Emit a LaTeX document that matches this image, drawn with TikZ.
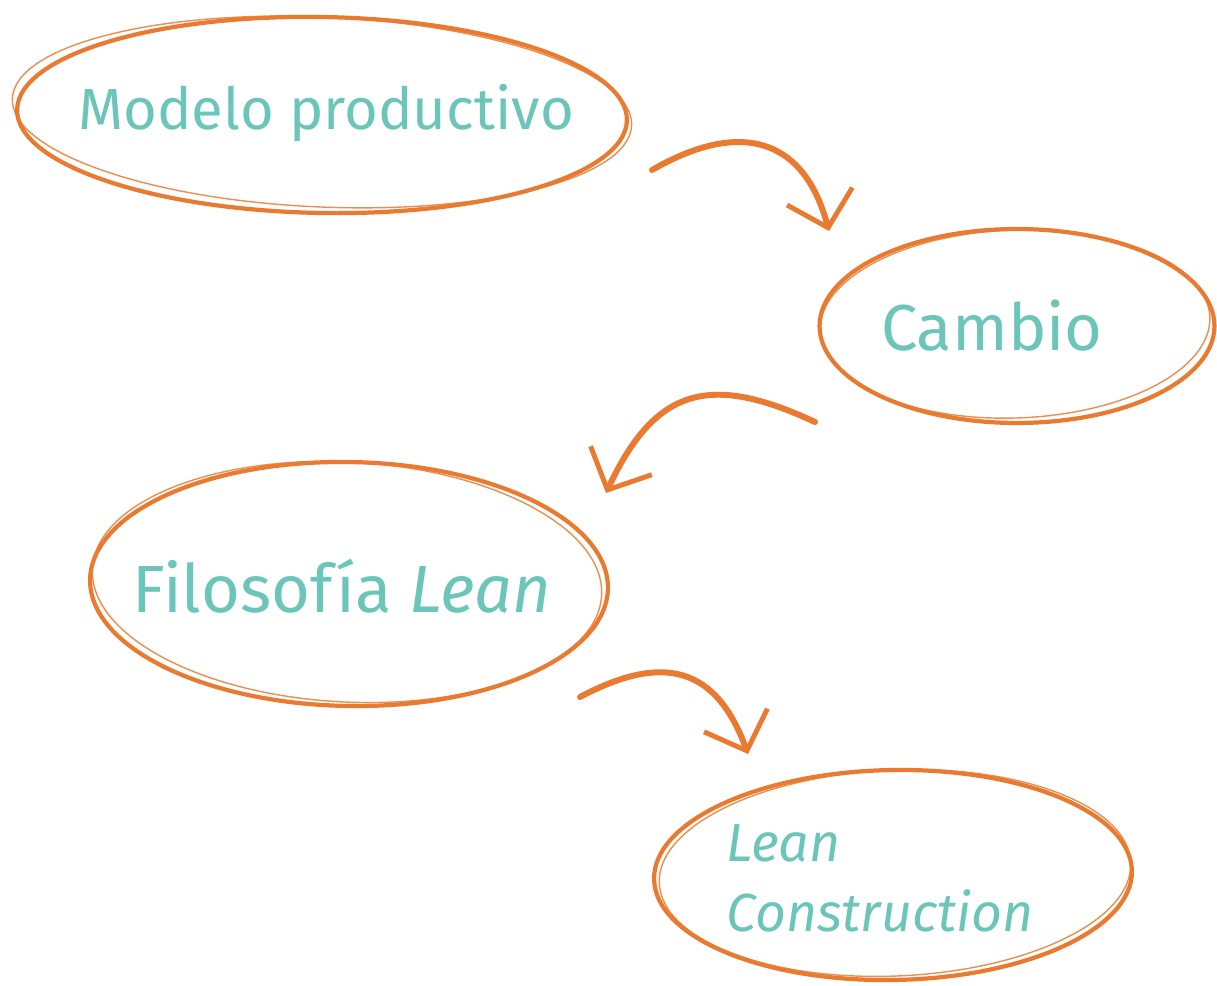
\documentclass[tikz,border=0pt]{standalone}
\usepackage{fontspec}
\setmainfont{Fira Sans}
\usepackage{xcolor}
\usepackage{tikz}
\usetikzlibrary{shapes.geometric, arrows.meta, positioning}
\definecolor{sketchorange}{HTML}{E97A30}
\definecolor{chalkteal}{HTML}{6BC6B9}
\tikzstyle{word} = [text=chalkteal, inner sep=2pt]
\tikzstyle{bubble} = [draw=sketchorange, line width=2.4pt]
\tikzstyle{sketch} = [draw=sketchorange, line width=0.8pt, opacity=0.85]
\tikzstyle{curvy} = [draw=sketchorange, line width=3.4pt, line cap=round, looseness=1.35, -{Straight Barb[length=0.65cm, width=1.35cm, line width=2.8pt]}]

\begin{document}
\begin{tikzpicture}[x=0.02cm, y=-0.02cm]
  \useasboundingbox (0,0) rectangle (1217,986);

  % Nodes
  \node (modelo) [word, font=\fontsize{33}{38}\selectfont] at (326,113) {Modelo productivo};
  \node (cambio) [word, font=\fontsize{37}{44}\selectfont] at (992,326) {Cambio};
  \node (filosofia) [word, font=\fontsize{38}{44}\selectfont] at (342,586) {Filosofía \textit{Lean}};
  \node (leanc) [word, font=\fontsize{30.5}{40}\selectfont\itshape, align=left] at (880,878) {Lean\\ Construction};

  % Outlines
  \draw[bubble] (322,115) ellipse [x radius=6.1cm, y radius=1.96cm, rotate=-1];
  \draw[sketch] (322,112) ellipse [x radius=6.2cm, y radius=1.9cm, rotate=-2.5];
  \draw[bubble] (1017,326) ellipse [x radius=3.95cm, y radius=1.94cm];
  \draw[sketch] (1015,324) ellipse [x radius=3.9cm, y radius=1.88cm, rotate=2];
  \draw[bubble] (349,584) ellipse [x radius=5.18cm, y radius=2.44cm, rotate=-1];
  \draw[sketch] (347,582) ellipse [x radius=5.1cm, y radius=2.4cm, rotate=-3];
  \draw[bubble] (893,875) ellipse [x radius=4.78cm, y radius=2.1cm, rotate=1];
  \draw[sketch] (895,873) ellipse [x radius=4.72cm, y radius=2.06cm, rotate=2.5];

  % Arrow ends
  \coordinate (a1s) at (652,170);
  \coordinate (a1e) at (829,231);
  \coordinate (a2s) at (815,422);
  \coordinate (a2e) at (606,493);
  \coordinate (a3s) at (580,697);
  \coordinate (a3e) at (748,754);

  % Arrows
  \draw[curvy] (a1s) to[out=30, in=105] (a1e);
  \draw[curvy] (a2s) to[out=155, in=65] (a2e);
  \draw[curvy] (a3s) to[out=28, in=110] (a3e);

\end{tikzpicture}
\end{document}
